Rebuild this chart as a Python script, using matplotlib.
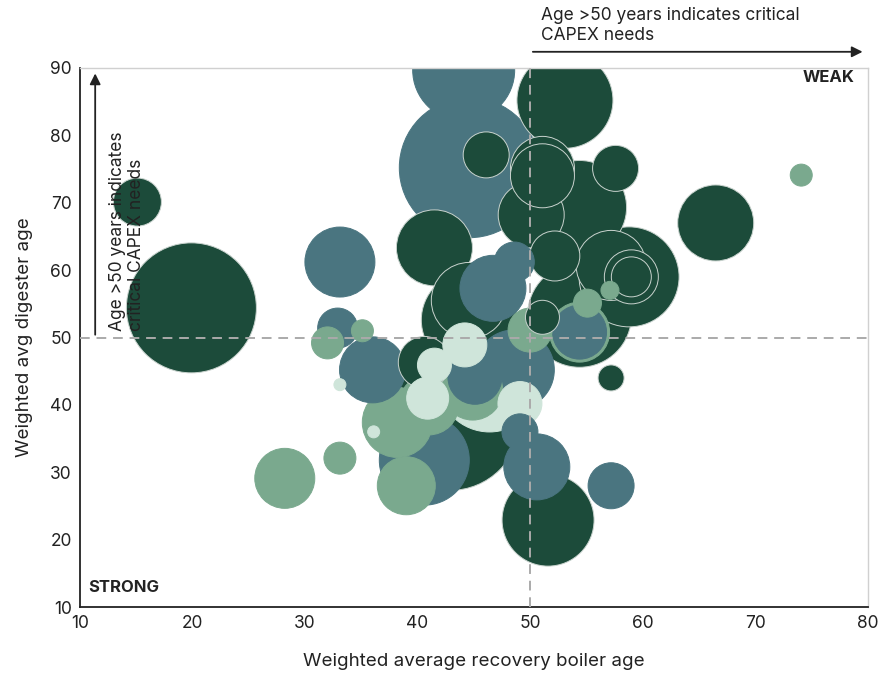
import matplotlib
matplotlib.use('Agg')
import matplotlib.pyplot as plt
import numpy as np

plt.rcParams['font.family'] = ['Inter', 'DejaVu Sans']

# mills per group: recovery boiler age (x), digester age (y), capacity (bubble area)
dark_x = [19.9, 15.1, 53.1, 46.1, 57.6, 51.1, 51.1, 50.1, 54.4, 66.5, 41.5, 52.2,
          57.2, 58.8, 59.0, 59.0, 51.1, 54.4, 57.2, 51.6, 42.9, 44.6, 44.6, 40.6]
dark_y = [54.4, 70.1, 85.2, 77.1, 75.1, 75.1, 74.0, 68.2, 69.3, 67.0, 63.3, 62.1,
          60.7, 59.0, 59.0, 59.0, 53.0, 53.3, 44.0, 22.9, 37.7, 55.5, 52.6, 46.3]
dark_cap = [4225, 576, 2304, 529, 529, 1024, 1024, 1089, 2209, 1444, 1444, 625,
            1225, 2500, 729, 400, 289, 2704, 169, 2116, 4900, 1444, 2304, 676]

teal_x = [44.1, 44.6, 33.1, 32.9, 36.0, 46.7, 48.6, 45.1, 40.6, 54.4, 48.6, 49.1, 50.6, 57.2]
teal_y = [89.7, 75.2, 61.2, 51.4, 45.2, 57.3, 61.2, 44.1, 31.8, 50.8, 45.2, 36.0, 30.8, 28.0]
teal_cap = [2601, 4900, 1225, 400, 1089, 1089, 400, 729, 2025, 729, 1600, 324, 1089, 529]

green_x = [28.2, 33.1, 32.0, 35.1, 39.0, 38.2, 44.9, 41.0, 50.0, 55.1, 57.1, 74.1, 54.4]
green_y = [29.1, 32.1, 49.2, 51.0, 28.0, 37.4, 42.2, 40.0, 51.1, 55.1, 57.0, 74.1, 50.8]
green_cap = [900, 256, 256, 121, 841, 1225, 900, 900, 484, 196, 81, 121, 900]

mint_x = [33.1, 36.1, 41.5, 40.9, 44.2, 49.1, 46.4]
mint_y = [43.0, 36.0, 45.9, 41.0, 48.9, 40.2, 43.7]
mint_cap = [36, 36, 289, 441, 484, 484, 2704]

colors = {'dark': '#1c4b3a', 'teal': '#4a7580', 'green': '#7aa98e', 'mint': '#cfe5da'}
edges = {'dark': '#c9d3ce', 'teal': '#4a7580', 'green': '#7aa98e', 'mint': '#cfe5da'}

groups = [('dark', dark_x, dark_y, dark_cap), ('teal', teal_x, teal_y, teal_cap),
          ('green', green_x, green_y, green_cap), ('mint', mint_x, mint_y, mint_cap)]

xs, ys, caps, cols, ecs = [], [], [], [], []
for name, gx, gy, gc in groups:
    xs += gx; ys += gy; caps += gc
    cols += [colors[name]] * len(gx)
    ecs += [edges[name]] * len(gx)
xs, ys, caps = np.array(xs), np.array(ys), np.array(caps)
cols, ecs = np.array(cols), np.array(ecs)
order = np.argsort(-caps, kind='stable')  # big bubbles first, small ones on top

fig = plt.figure(figsize=(8.82, 6.73), dpi=100)
ax = fig.add_axes([0.0907, 0.098, 0.893, 0.801])

scale = (2 * 0.72) ** 2
ax.scatter(xs[order], ys[order], s=caps[order] * scale, c=cols[order],
           edgecolors=ecs[order], linewidths=0.7, zorder=2)

ax.axvline(50, color='#aaaaaa', linestyle=(0, (5, 3.5)), linewidth=1.4, zorder=3)
ax.axhline(50, color='#aaaaaa', linestyle=(0, (5, 3.5)), linewidth=1.4, zorder=3)

ax.set_xlim(10, 80)
ax.set_ylim(10, 90)
ax.set_xticks(range(10, 81, 10))
ax.set_yticks(range(10, 91, 10))
ax.tick_params(length=0, labelsize=12.5, colors='#222222', pad=6)
ax.set_xlabel('Weighted average recovery boiler age', fontsize=13.5, color='#222222', labelpad=15)
ax.set_ylabel('Weighted avg digester age', fontsize=13.5, color='#222222', labelpad=12)

for s in ['left', 'bottom']:
    ax.spines[s].set_color('#222222')
    ax.spines[s].set_linewidth(1.3)
for s in ['top', 'right']:
    ax.spines[s].set_color('#d0d0d0')
    ax.spines[s].set_linewidth(1.0)

ax.text(78.8, 88.6, 'WEAK', fontsize=12, fontweight='bold', color='#222222', ha='right', va='center')
ax.text(10.7, 12.9, 'STRONG', fontsize=12, fontweight='bold', color='#222222', ha='left', va='center')

# top arrow
ax.annotate('', xy=(79.8, 92.4), xytext=(50, 92.4), annotation_clip=False,
            arrowprops=dict(arrowstyle='-|>', color='#222222', lw=1.3, mutation_scale=16))
ax.text(51.0, 93.6, 'Age >50 years indicates critical\nCAPEX needs', fontsize=12.5,
        color='#222222', ha='left', va='bottom', linespacing=1.2, clip_on=False)

# left arrow
ax.annotate('', xy=(11.35, 89.6), xytext=(11.35, 50), annotation_clip=False,
            arrowprops=dict(arrowstyle='-|>', color='#222222', lw=1.3, mutation_scale=16))
ax.text(12.55, 50.9, 'Age >50 years indicates\ncritical CAPEX needs', fontsize=12.5,
        color='#222222', ha='left', va='bottom', rotation=90, linespacing=1.2)

fig.savefig('out.png', dpi=100)
